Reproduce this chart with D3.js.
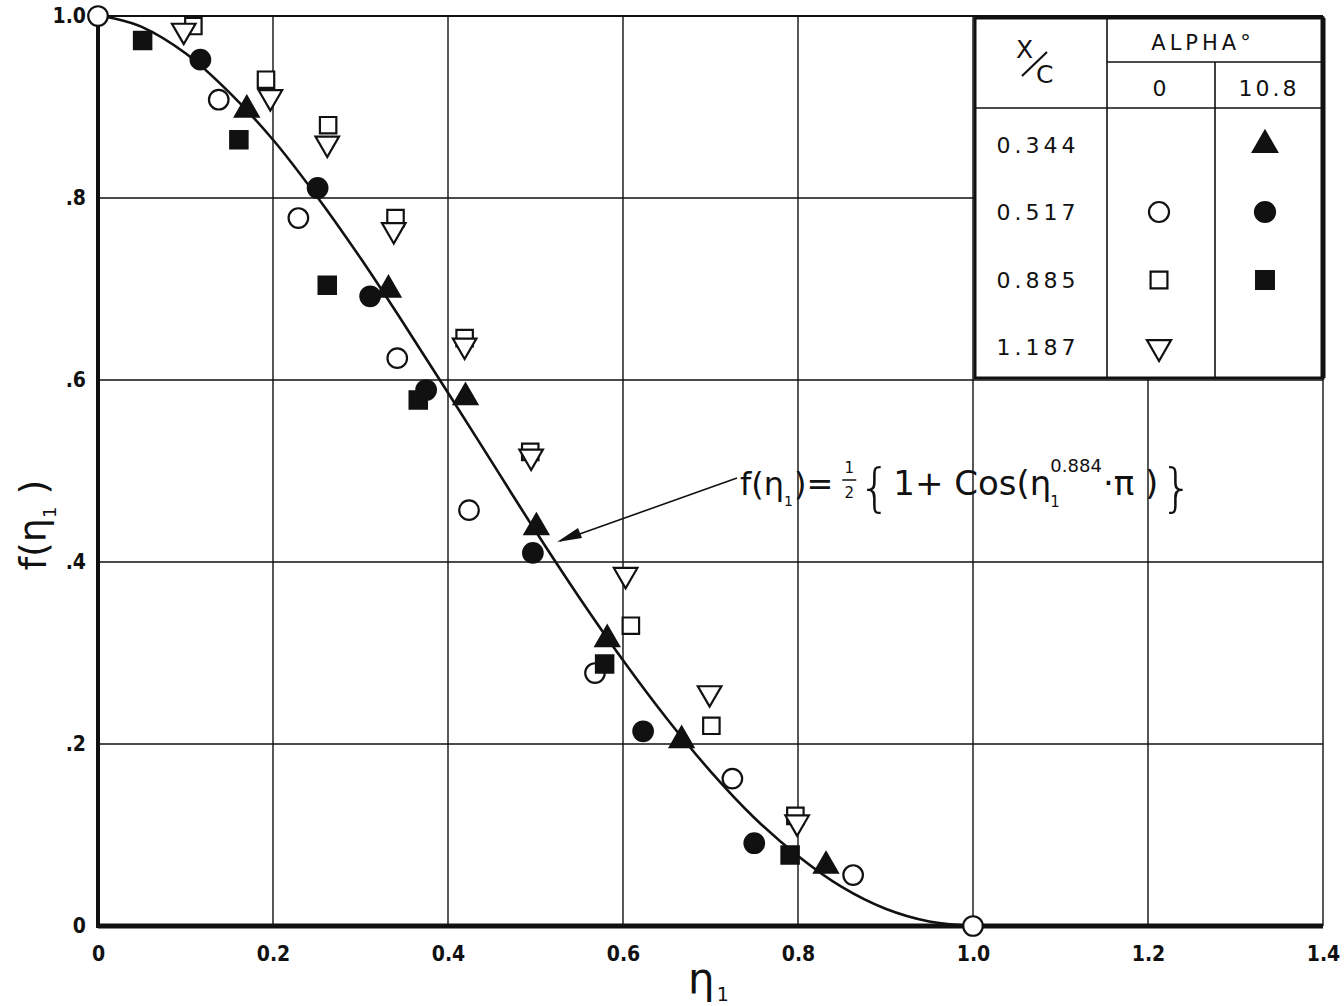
<!DOCTYPE html>
<html>
<head>
<meta charset="utf-8">
<script src="https://cdn.jsdelivr.net/npm/d3@7"></script>
<style>
  body { margin: 0; background: #fff; }
  text { font-family: "DejaVu Sans", sans-serif; fill: #111; }
</style>
</head>
<body>
<div id="chart"></div>
<script>
// tick labels
const xTicks = [0, 0.2, 0.4, 0.6, 0.8, 1.0, 1.2, 1.4];
const xTickLabels = ["0", "0.2", "0.4", "0.6", "0.8", "1.0", "1.2", "1.4"];
const yTicks = [0, 0.2, 0.4, 0.6, 0.8, 1.0];
const yTickLabels = ["0", ".2", ".4", ".6", ".8", "1.0"];

// x/c = 0.517, alpha 0  (open circle)
const openCircle = [
  [0, 1.0], [0.138, 0.908], [0.229, 0.778], [0.342, 0.624], [0.424, 0.457],
  [0.568, 0.278], [0.725, 0.162], [0.863, 0.056], [1.0, 0.0]
];
// x/c = 0.885, alpha 0  (open square)
const openSquare = [
  [0.109, 0.989], [0.192, 0.930], [0.263, 0.880], [0.340, 0.778], [0.419, 0.646],
  [0.494, 0.521], [0.609, 0.330], [0.701, 0.220], [0.797, 0.121]
];
// x/c = 1.187, alpha 0  (open triangle down)
const openTriangle = [
  [0.098, 0.984], [0.197, 0.911], [0.262, 0.860], [0.338, 0.765], [0.419, 0.638],
  [0.495, 0.516], [0.603, 0.386], [0.699, 0.256], [0.799, 0.114]
];
// x/c = 0.344, alpha 10.8  (filled triangle)
const fillTriangle = [
  [0.170, 0.897], [0.332, 0.699], [0.420, 0.581], [0.501, 0.438],
  [0.582, 0.315], [0.667, 0.204], [0.832, 0.066]
];
// x/c = 0.517, alpha 10.8  (filled circle)
const fillCircle = [
  [0.117, 0.952], [0.251, 0.811], [0.311, 0.692], [0.375, 0.589],
  [0.497, 0.410], [0.623, 0.214], [0.750, 0.091]
];
// x/c = 0.885, alpha 10.8  (filled square)
const fillSquare = [
  [0.051, 0.973], [0.161, 0.864], [0.262, 0.704], [0.366, 0.578],
  [0.579, 0.288], [0.791, 0.078]
];
// fitted curve
const curvePts = [
  [0, 1.0], [0.02, 0.997], [0.05, 0.988], [0.1, 0.959], [0.15, 0.916], [0.2, 0.864],
  [0.25, 0.802], [0.3, 0.734], [0.35, 0.661], [0.4, 0.586], [0.45, 0.510],
  [0.5, 0.434], [0.55, 0.361], [0.6, 0.292], [0.65, 0.228], [0.7, 0.170],
  [0.75, 0.119], [0.8, 0.077], [0.85, 0.043], [0.9, 0.019], [0.95, 0.005], [1.0, 0]
];

const legendRows = ["0.344", "0.517", "0.885", "1.187"];
const legendAlpha = ["0", "10.8"];

const W = 1344, H = 1006;
const svg = d3.select("#chart").append("svg")
    .attr("width", W)
    .attr("height", H);

const x = d3.scaleLinear().domain([0, 1.4]).range([98, 1323]);
const y = d3.scaleLinear().domain([0, 1.0]).range([926, 16]);

// grid
svg.append("g").selectAll("line")
    .data(xTicks.slice(1))
  .enter().append("line")
    .attr("x1", d => x(d)).attr("x2", d => x(d))
    .attr("y1", y(0)).attr("y2", y(1))
    .attr("stroke", "#111").attr("stroke-width", 1.4);

svg.append("g").selectAll("line")
    .data(yTicks.slice(1))
  .enter().append("line")
    .attr("x1", x(0)).attr("x2", x(1.4))
    .attr("y1", d => y(d)).attr("y2", d => y(d))
    .attr("stroke", "#111").attr("stroke-width", d => d === 1 ? 2.2 : 1.4);

// axes
const tickFont = "'DejaVu Sans Condensed', 'DejaVu Sans', sans-serif";
const xAxis = svg.append("g")
    .attr("transform", "translate(0," + y(0) + ")")
    .call(d3.axisBottom(x).tickValues(xTicks).tickSize(0).tickPadding(20)
        .tickFormat((d, i) => xTickLabels[i]));
xAxis.select(".domain").remove();
xAxis.selectAll("text")
    .style("font-size", "21px").style("font-weight", "bold").style("font-family", tickFont);

const yAxis = svg.append("g")
    .attr("transform", "translate(" + x(0) + ",0)")
    .call(d3.axisLeft(y).tickValues(yTicks).tickSize(0).tickPadding(12)
        .tickFormat((d, i) => yTickLabels[i]));
yAxis.select(".domain").remove();
yAxis.selectAll("text")
    .style("font-size", "21px").style("font-weight", "bold").style("font-family", tickFont);

svg.append("line")
    .attr("x1", x(0)).attr("x2", x(1.4))
    .attr("y1", y(0)).attr("y2", y(0))
    .attr("stroke", "#111").attr("stroke-width", 5);
svg.append("line")
    .attr("x1", x(0)).attr("x2", x(0))
    .attr("y1", y(0) + 2).attr("y2", y(1))
    .attr("stroke", "#111").attr("stroke-width", 4);

// legend table
const lg = svg.append("g");
const L = { x0: 975, x1: 1107, x2: 1215, x3: 1323, y0: 18, y1: 62, y2: 108, y3: 378 };
lg.append("rect")
    .attr("x", L.x0).attr("y", L.y0)
    .attr("width", L.x3 - L.x0).attr("height", L.y3 - L.y0)
    .attr("fill", "#fff").attr("stroke", "#111").attr("stroke-width", 3);
lg.append("line").attr("x1", L.x3).attr("x2", L.x3).attr("y1", L.y0).attr("y2", L.y3)
    .attr("stroke", "#111").attr("stroke-width", 5);
[[L.x1, L.y0, L.x1, L.y3], [L.x2, L.y1, L.x2, L.y3],
 [L.x1, L.y1, L.x3, L.y1], [L.x0, L.y2, L.x3, L.y2]].forEach(s => {
  lg.append("line")
      .attr("x1", s[0]).attr("y1", s[1]).attr("x2", s[2]).attr("y2", s[3])
      .attr("stroke", "#111").attr("stroke-width", 1.6);
});
lg.append("text").attr("x", 1203).attr("y", 50).attr("text-anchor", "middle")
    .style("font-size", "21px").style("letter-spacing", "4px").text("ALPHA°");
lg.selectAll(".alpha")
    .data(legendAlpha)
  .enter().append("text")
    .attr("x", (d, i) => i === 0 ? (L.x1 + L.x2) / 2 : (L.x2 + L.x3) / 2)
    .attr("y", 96).attr("text-anchor", "middle")
    .style("font-size", "22px").style("letter-spacing", "3px")
    .text(d => d);
// x/c header
lg.append("text").attr("x", 1016).attr("y", 58).style("font-size", "25px").text("X");
lg.append("line").attr("x1", 1022).attr("y1", 76).attr("x2", 1047).attr("y2", 52)
    .attr("stroke", "#111").attr("stroke-width", 2.2);
lg.append("text").attr("x", 1036).attr("y", 83).style("font-size", "25px").text("C");

const rowY = [145, 212, 280, 347];
lg.selectAll(".row")
    .data(legendRows)
  .enter().append("text")
    .attr("x", 1038).attr("y", (d, i) => rowY[i] + 8).attr("text-anchor", "middle")
    .style("font-size", "22px").style("letter-spacing", "4px")
    .text(d => d);

// symbols
const series = [
  { data: fillTriangle, type: d3.symbolTriangle, size: 240, fill: "#111", rot: 0, row: 0, col: 1 },
  { data: openCircle, type: d3.symbolCircle, size: 300, fill: "#fff", rot: 0, row: 1, col: 0 },
  { data: fillCircle, type: d3.symbolCircle, size: 300, fill: "#111", rot: 0, row: 1, col: 1 },
  { data: openSquare, type: d3.symbolSquare, size: 270, fill: "#fff", rot: 0, row: 2, col: 0 },
  { data: fillSquare, type: d3.symbolSquare, size: 300, fill: "#111", rot: 0, row: 2, col: 1 },
  { data: openTriangle, type: d3.symbolTriangle, size: 240, fill: "#fff", rot: 180, row: 3, col: 0 }
];

// curve
const line = d3.line()
    .x(d => x(d[0]))
    .y(d => y(d[1]))
    .curve(d3.curveCatmullRom);
svg.append("path")
    .datum(curvePts)
    .attr("d", line)
    .attr("fill", "none")
    .attr("stroke", "#111")
    .attr("stroke-width", 2.6);

series.forEach(s => {
  const sym = d3.symbol().type(s.type).size(s.size);
  svg.append("g").selectAll("path")
      .data(s.data)
    .enter().append("path")
      .attr("d", sym)
      .attr("transform", d => "translate(" + x(d[0]) + "," + y(d[1]) + ") rotate(" + s.rot + ")")
      .attr("fill", s.fill)
      .attr("stroke", "#111")
      .attr("stroke-width", 2.2);
  const lx = s.col === 0 ? 1159 : 1265;
  lg.append("path")
      .attr("d", d3.symbol().type(s.type).size(s.size * 1.05))
      .attr("transform", "translate(" + lx + "," + rowY[s.row] + ") rotate(" + s.rot + ")")
      .attr("fill", s.fill)
      .attr("stroke", "#111")
      .attr("stroke-width", 2.2);
});

// annotation arrow
const ann = svg.append("g");
ann.append("line")
    .attr("x1", 737).attr("y1", 478).attr("x2", 560).attr("y2", 541)
    .attr("stroke", "#111").attr("stroke-width", 1.6);
ann.append("path")
    .attr("d", "M557,542 L578,528 L582,538 Z")
    .attr("fill", "#111");

// formula, placed piece by piece
function put(txt, px, py, size, extra) {
  const t = ann.append("text").attr("x", px).attr("y", py)
      .style("font-size", size + "px").text(txt);
  if (extra) extra(t);
  return px + t.node().getComputedTextLength();
}
let cx = 740;
cx = put("f(η", cx, 495, 32);
cx = put("1", cx, 506, 14) + 1;
cx = put(")=", cx, 495, 32) + 16;
put("1", cx, 473, 15, t => t.attr("text-anchor", "middle"));
ann.append("line").attr("x1", cx - 7).attr("x2", cx + 7).attr("y1", 480).attr("y2", 480)
    .attr("stroke", "#111").attr("stroke-width", 1.5);
put("2", cx, 498, 15, t => t.attr("text-anchor", "middle"));
cx += 9;
cx = put("{", cx, 505, 52, t => t.style("font-weight", "200")) + 2;
cx = put("1+ Cos(η", cx, 495, 34);
const sx = cx - 1;
put("1", sx, 507, 15);
cx = put("0.884", sx, 472, 18) + 1;
cx = put("·π )", cx, 495, 34) + 2;
put("}", cx, 505, 52, t => t.style("font-weight", "200"));

// axis titles
const yt = svg.append("text")
    .attr("transform", "translate(46,525) rotate(-90)")
    .attr("text-anchor", "middle")
    .style("font-size", "38px");
yt.append("tspan").text("f(η");
yt.append("tspan").attr("dy", 10).style("font-size", "18px").text("1");
yt.append("tspan").attr("dy", -10).text(" )");

const xt = svg.append("text")
    .attr("x", 688).attr("y", 993)
    .style("font-size", "42px");
xt.append("tspan").text("η");
xt.append("tspan").attr("dy", 8).attr("dx", 2).style("font-size", "19px").text("1");
</script>
</body>
</html>
